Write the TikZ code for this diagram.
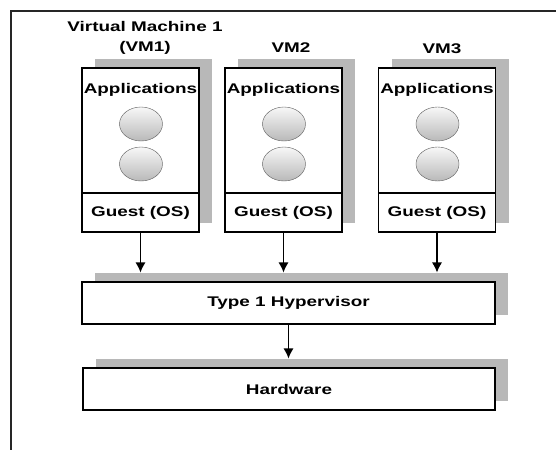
\documentclass[tikz,border=0pt]{standalone}
\usepackage{fontspec}
\setmainfont[FakeStretch=1.35]{Liberation Sans}
\usepackage{xcolor}
\usepackage{tikz}
\usetikzlibrary{shapes,arrows.meta,shadows}
\definecolor{shade}{RGB}{184,184,184}
\tikzstyle{block} = [rectangle, draw, fill=white, line width=1.1pt, inner sep=0pt, font=\fontsize{14}{20}\selectfont\bfseries, drop shadow={shadow xshift=13pt, shadow yshift=9pt, fill=shade, opacity=1}]
\tikzstyle{guestbox} = [rectangle, draw, fill=white, line width=1.1pt, inner sep=0pt, minimum width=117pt, minimum height=39pt, font=\fontsize{14}{20}\selectfont\bfseries]
\tikzstyle{vmtitle} = [align=center, inner sep=0pt, font=\fontsize{14}{20}\selectfont\bfseries]
\tikzstyle{appball} = [ellipse, draw=gray!75!black, top color=gray!6, bottom color=gray!55, minimum width=43pt, minimum height=34pt, inner sep=0pt]
\tikzstyle{line} = [draw, line width=1.1pt, -{Latex[length=10pt,width=10pt]}]

\begin{document}
\begin{tikzpicture}[x=1pt, y=-1pt]
\useasboundingbox [fill=white] (0,0) rectangle (558,450);
\draw [line width=1.3pt, gray!30!black] (11,450) -- (11,11) -- (556,11);
\node [vmtitle] (title1) at (145,38) {Virtual Machine 1\\(VM1)};
\node [vmtitle] (title2) at (291,48) {VM2};
\node [vmtitle] (title3) at (442,49) {VM3};
\node [block, minimum width=117pt, minimum height=164pt] (vm1) at (140.5,150) {};
\node [block, minimum width=117pt, minimum height=164pt] (vm2) at (283.5,150) {};
\node [block, minimum width=117pt, minimum height=164pt] (vm3) at (437,150) {};
\node [guestbox, anchor=south] (guest1) at (vm1.south) {Guest (OS)};
\node [guestbox, anchor=south] (guest2) at (vm2.south) {Guest (OS)};
\node [guestbox, anchor=south] (guest3) at (vm3.south) {Guest (OS)};
\node [vmtitle] (apps1) at (140.5,90) {Applications};
\node [vmtitle] (apps2) at (283.5,90) {Applications};
\node [vmtitle] (apps3) at (437,90) {Applications};
\node [appball] (ball1a) at (141,124) {};
\node [appball] (ball1b) at (141,164) {};
\node [appball] (ball2a) at (284,124) {};
\node [appball] (ball2b) at (284,164) {};
\node [appball] (ball3a) at (437.5,124) {};
\node [appball] (ball3b) at (437.5,164) {};
\node [block, minimum width=413pt, minimum height=42pt] (hyp) at (288.5,303) {Type 1 Hypervisor};
\node [block, minimum width=412pt, minimum height=42pt] (hw) at (289,389) {Hardware};
\path [line] (guest1) -- ([yshift=9pt]guest1 |- hyp.north);
\path [line] (guest2) -- ([yshift=9pt]guest2 |- hyp.north);
\path [line] (guest3) -- ([yshift=9pt]guest3 |- hyp.north);
\path [line] (hyp) -- ([yshift=9pt]hyp.south |- hw.north);
\end{tikzpicture}
\end{document}
